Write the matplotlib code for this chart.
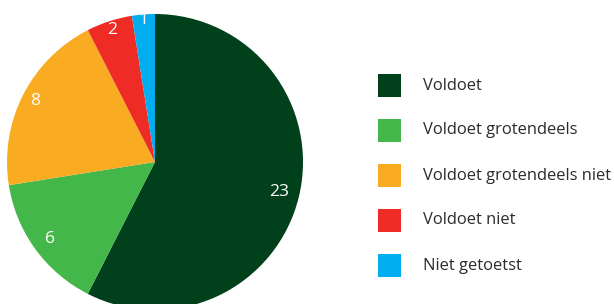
import numpy as np
import matplotlib
matplotlib.use('Agg')
import matplotlib.pyplot as plt
from matplotlib.patches import Rectangle

# data
categories = ['Voldoet', 'Voldoet grotendeels', 'Voldoet grotendeels niet', 'Voldoet niet', 'Niet getoetst']
waarden = [23, 6, 8, 2, 1]
kleuren = ['#00401B', '#44B74A', '#F9AC22', '#EE2B25', '#02AEEF']
label_afstand = [0.86, 0.88, 0.91, 0.94, 0.96]

plt.rcParams['font.family'] = ['Open Sans', 'DejaVu Sans']

W, H = 614, 304
fig = plt.figure(figsize=(W / 100, H / 100), dpi=100)

# pie axes: centre (155,162) px, radius 148 px
cx, cy, r = 155, 162, 148
ax = fig.add_axes([(cx - r) / W, (H - cy - r) / H, 2 * r / W, 2 * r / H])
wedges, _ = ax.pie(waarden, colors=kleuren, startangle=90, counterclock=False,
                   radius=1, wedgeprops=dict(linewidth=0))
for w, v, d in zip(wedges, waarden, label_afstand):
    hoek = np.deg2rad((w.theta1 + w.theta2) / 2)
    ax.text(d * np.cos(hoek), d * np.sin(hoek), str(v), color='white',
            fontsize=12.5, ha='center', va='center')
ax.set_xlim(-1, 1)
ax.set_ylim(-1, 1)
ax.set_aspect('equal')
ax.axis('off')

# legend
for i, (cat, kl) in enumerate(zip(categories, kleuren)):
    yc = 85.5 + i * 45
    fig.add_artist(Rectangle((378 / W, (H - yc - 11.5) / H), 23 / W, 23 / H,
                             transform=fig.transFigure, color=kl, lw=0))
    fig.text(423 / W, (H - yc) / H, cat, fontsize=11.9, color='#2b2b2b',
             ha='left', va='center')

fig.savefig('out.png', dpi=100)
